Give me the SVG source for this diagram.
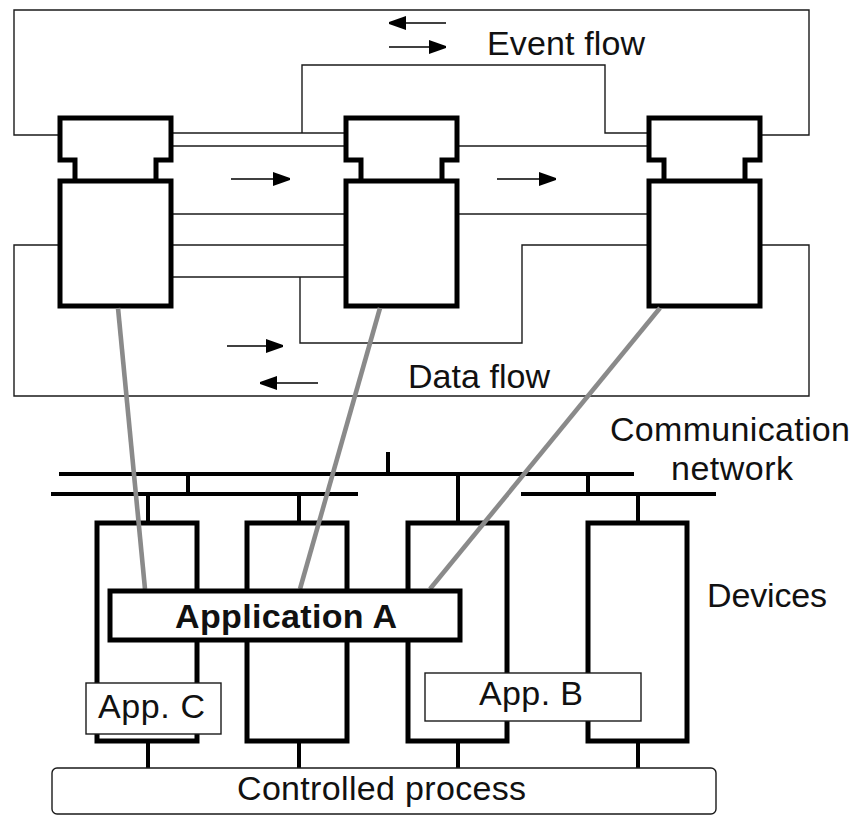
<svg xmlns="http://www.w3.org/2000/svg" width="855" height="816" viewBox="0 0 855 816">
<defs>
<marker id="ah" markerUnits="userSpaceOnUse" markerWidth="17" markerHeight="14" refX="17" refY="7" orient="auto">
<path d="M0,0 L17,6 L17,8 L0,14 Z" fill="#000"/>
</marker>
<style>
.thick{fill:#fff;stroke:#000;stroke-width:5;stroke-linejoin:miter}
.thin{fill:none;stroke:#1a1a1a;stroke-width:1.4}
.arr{fill:none;stroke:#000;stroke-width:1.6;marker-end:url(#ah)}
.gray{fill:none;stroke:#8a8a8a;stroke-width:4.6}
.bus{fill:none;stroke:#000;stroke-width:4}
.box{fill:#fff;stroke:#1a1a1a;stroke-width:1.4}
.t{font-family:"Liberation Sans",Arial,sans-serif;font-size:34px;fill:#111}
.b{font-weight:bold}
</style>
</defs>
<rect width="855" height="816" fill="#fff"/>

<g id="connectors">
<!-- event flow lines -->
<polyline class="thin" points="60,135 14,135 14,10 809,10 809,135 760,135"/>
<line class="thin" x1="171" y1="133" x2="346" y2="133"/>
<line class="thin" x1="171" y1="146" x2="346" y2="146"/>
<polyline class="thin" points="302,133 302,65 605,65 605,133 649,133"/>
<line class="thin" x1="457" y1="146" x2="649" y2="146"/>
<!-- data flow lines -->
<line class="thin" x1="171" y1="214" x2="346" y2="214"/>
<line class="thin" x1="457" y1="214" x2="649" y2="214"/>
<line class="thin" x1="171" y1="245" x2="346" y2="245"/>
<line class="thin" x1="171" y1="277" x2="346" y2="277"/>
<polyline class="thin" points="300,277 300,343 522,343 522,245 649,245"/>
<polyline class="thin" points="60,245 14,245 14,396 809,396 809,245 760,245"/>
<!-- arrows -->
<line class="arr" x1="446" y1="23" x2="389" y2="23"/>
<line class="arr" x1="389" y1="47" x2="446" y2="47"/>
<line class="arr" x1="231" y1="179" x2="290" y2="179"/>
<line class="arr" x1="497" y1="179" x2="556" y2="179"/>
<line class="arr" x1="227" y1="346" x2="283" y2="346"/>
<line class="arr" x1="318" y1="383" x2="260" y2="383"/>
</g>

<g id="fb1">
<path class="thick" d="M75,181 V160 H60 V118 H171 V160 H156 V181"/>
<rect class="thick" x="60" y="181" width="111" height="125"/>
</g>
<g id="fb2">
<path class="thick" d="M361,181 V160 H346 V118 H457 V160 H442 V181"/>
<rect class="thick" x="346" y="181" width="111" height="125"/>
</g>
<g id="fb3">
<path class="thick" d="M664,181 V160 H649 V118 H760 V160 H745 V181"/>
<rect class="thick" x="649" y="181" width="111" height="125"/>
</g>

<g id="labels-top">
<text class="t" x="487" y="55" textLength="158">Event flow</text>
<text class="t" x="408" y="388" textLength="142">Data flow</text>
<text class="t" x="610" y="441" textLength="240">Communication</text>
<text class="t" x="671" y="480" textLength="122">network</text>
<text class="t" x="707" y="607" textLength="120">Devices</text>
</g>

<g id="network">
<line class="bus" x1="59" y1="474" x2="634" y2="474"/>
<line class="bus" x1="51" y1="494" x2="358" y2="494"/>
<line class="bus" x1="521" y1="494" x2="716" y2="494"/>
<line class="bus" x1="388" y1="452" x2="388" y2="474"/>
<line class="bus" x1="188" y1="474" x2="188" y2="494"/>
<line class="bus" x1="588" y1="474" x2="588" y2="494"/>
<line class="bus" x1="148" y1="494" x2="148" y2="523"/>
<line class="bus" x1="299" y1="494" x2="299" y2="523"/>
<line class="bus" x1="458" y1="474" x2="458" y2="523"/>
<line class="bus" x1="638" y1="494" x2="638" y2="523"/>
<line class="bus" x1="148" y1="741" x2="148" y2="768"/>
<line class="bus" x1="299" y1="741" x2="299" y2="768"/>
<line class="bus" x1="458" y1="741" x2="458" y2="768"/>
<line class="bus" x1="638" y1="741" x2="638" y2="768"/>
</g>

<g id="dev1"><rect class="thick" x="97" y="523" width="100" height="218"/></g>
<g id="dev2"><rect class="thick" x="247" y="523" width="100" height="218"/></g>
<g id="dev3"><rect class="thick" x="408" y="523" width="99" height="218"/></g>
<g id="dev4"><rect class="thick" x="588" y="523" width="99" height="218"/></g>

<g id="appC">
<rect class="box" x="86" y="683" width="135" height="51"/>
<text class="t" x="98" y="718" textLength="107">App. C</text>
</g>
<g id="appB">
<rect class="box" x="425" y="673" width="216" height="48"/>
<text class="t" x="479" y="705" textLength="104">App. B</text>
</g>

<g id="process">
<rect class="box" x="52" y="768" width="664" height="46" rx="5" ry="5"/>
<text class="t" x="237" y="800" textLength="289">Controlled process</text>
</g>

<g id="mapping">
<line class="gray" x1="118" y1="308" x2="145" y2="589"/>
<line class="gray" x1="380" y1="308" x2="300" y2="589"/>
<line class="gray" x1="660" y1="308" x2="430" y2="589"/>
</g>

<g id="appA">
<rect class="thick" x="110" y="591" width="350" height="49"/>
<text class="t b" x="175" y="628" textLength="222">Application A</text>
</g>
</svg>
